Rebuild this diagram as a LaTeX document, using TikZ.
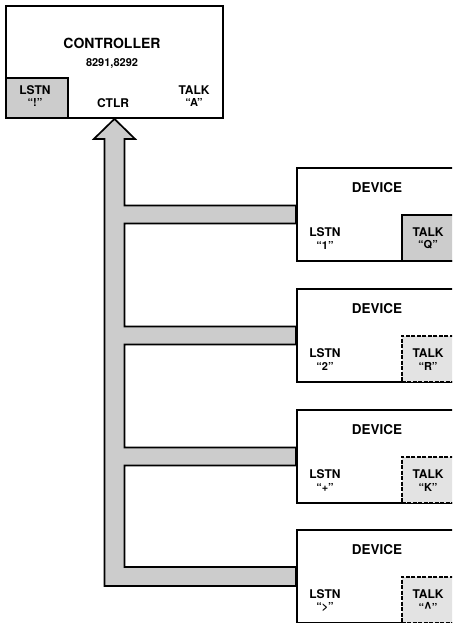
\documentclass[tikz,border=0pt]{standalone}
\usepackage{fontspec}
\setmainfont{TeX Gyre Heros}
\usetikzlibrary{calc}

\tikzset{
  unitbox/.style={draw, line width=1.9pt, fill=white, inner sep=0pt, anchor=north west},
  portsolid/.style={draw, line width=1.9pt, fill=gray!40, inner sep=0pt, anchor=north west},
  portdash/.style={draw, line width=1.9pt, dash pattern=on 4pt off 1.5pt, fill=gray!22, inner sep=0pt, anchor=north west},
  bus/.style={draw, line width=1.7pt, fill=gray!40, line join=miter},
  title/.style={font=\bfseries\fontsize{13.5}{15}\selectfont},
  tag/.style={font=\bfseries\fontsize{12}{13}\selectfont, inner sep=0pt},
  addr/.style={font=\bfseries\fontsize{11}{12}\selectfont, inner sep=0pt}
}
\newcommand{\bigcaret}{\smash{\raisebox{-2.5pt}{\scalebox{1.2}[1.45]{\textasciicircum}}}}

\begin{document}
\begin{tikzpicture}[x=1pt, y=-1pt]
  \useasboundingbox (0,0) rectangle (452,623);
  \clip (0,0) rectangle (452,623);

  % controller
  \node[unitbox, minimum width=217pt, minimum height=112pt] (ctlr) at (5,5) {};
  \node[font=\bfseries\fontsize{14}{16}\selectfont] (ctlrname) at (112,43) {CONTROLLER};
  \node[addr] (ctlrtype) at (112,63) {8291,8292};
  \node[portsolid, minimum width=62pt, minimum height=40pt] (ctlrlstn) at (ctlr.south west |- 0,77) {};
  \node[tag] at (35,90) {LSTN};
  \node[addr] at (35,102) {“!”};
  \node[tag] (ctlrctlr) at (113,103) {CTLR};
  \node[tag] at (194,90) {TALK};
  \node[addr] at (194,102) {“A”};

  % devices
  \foreach \n/\top/\la/\ta/\tstyle in {1/167/1/Q/portsolid, 2/288/2/R/portdash,
      3/409/+/K/portdash, 4/529/>/\bigcaret/portdash} {
    \node[unitbox, minimum width=180pt, minimum height=93pt] (dev\n) at (296,\top) {};
    \node[title] at ([shift={(81,21)}]dev\n.north west) {DEVICE};
    \node[tag] at ([shift={(29,65)}]dev\n.north west) {LSTN};
    \node[addr] at ([shift={(29,78)}]dev\n.north west) {“\la”};
    \node[\tstyle, minimum width=80pt, minimum height=46pt] (talk\n) at ([shift={(105,47)}]dev\n.north west) {};
    \node[tag] at ([shift={(132,65)}]dev\n.north west) {TALK};
    \node[addr] at ([shift={(132,78)}]dev\n.north west) {“\ta”};
  }

  % bus from the devices up to the controller
  \coordinate (stemR) at ([xshift=10pt]ctlr.south);
  \coordinate (stemL) at ([xshift=-10pt]ctlr.south);
  \draw[bus] (ctlr.south) -- ++(20.5,20) -- ++(-10.5,0)
    \foreach \d in {dev1,dev2,dev3} {
      -- ($(stemR |- \d.west)+(0,-9)$) -- ($(\d.west)+(0,-9)$)
      -- ($(\d.west)+(0,9)$) -- ($(stemR |- \d.west)+(0,9)$)
    }
    -- ($(stemR |- dev4.west)+(0,-9.5)$) -- ($(dev4.west)+(0,-9.5)$)
    -- ($(dev4.west)+(0,9.5)$) -- ($(stemL |- dev4.west)+(0,9.5)$)
    -- ($(stemL)+(0,20)$) -- ++(-10.5,0) -- cycle;
\end{tikzpicture}
\end{document}
